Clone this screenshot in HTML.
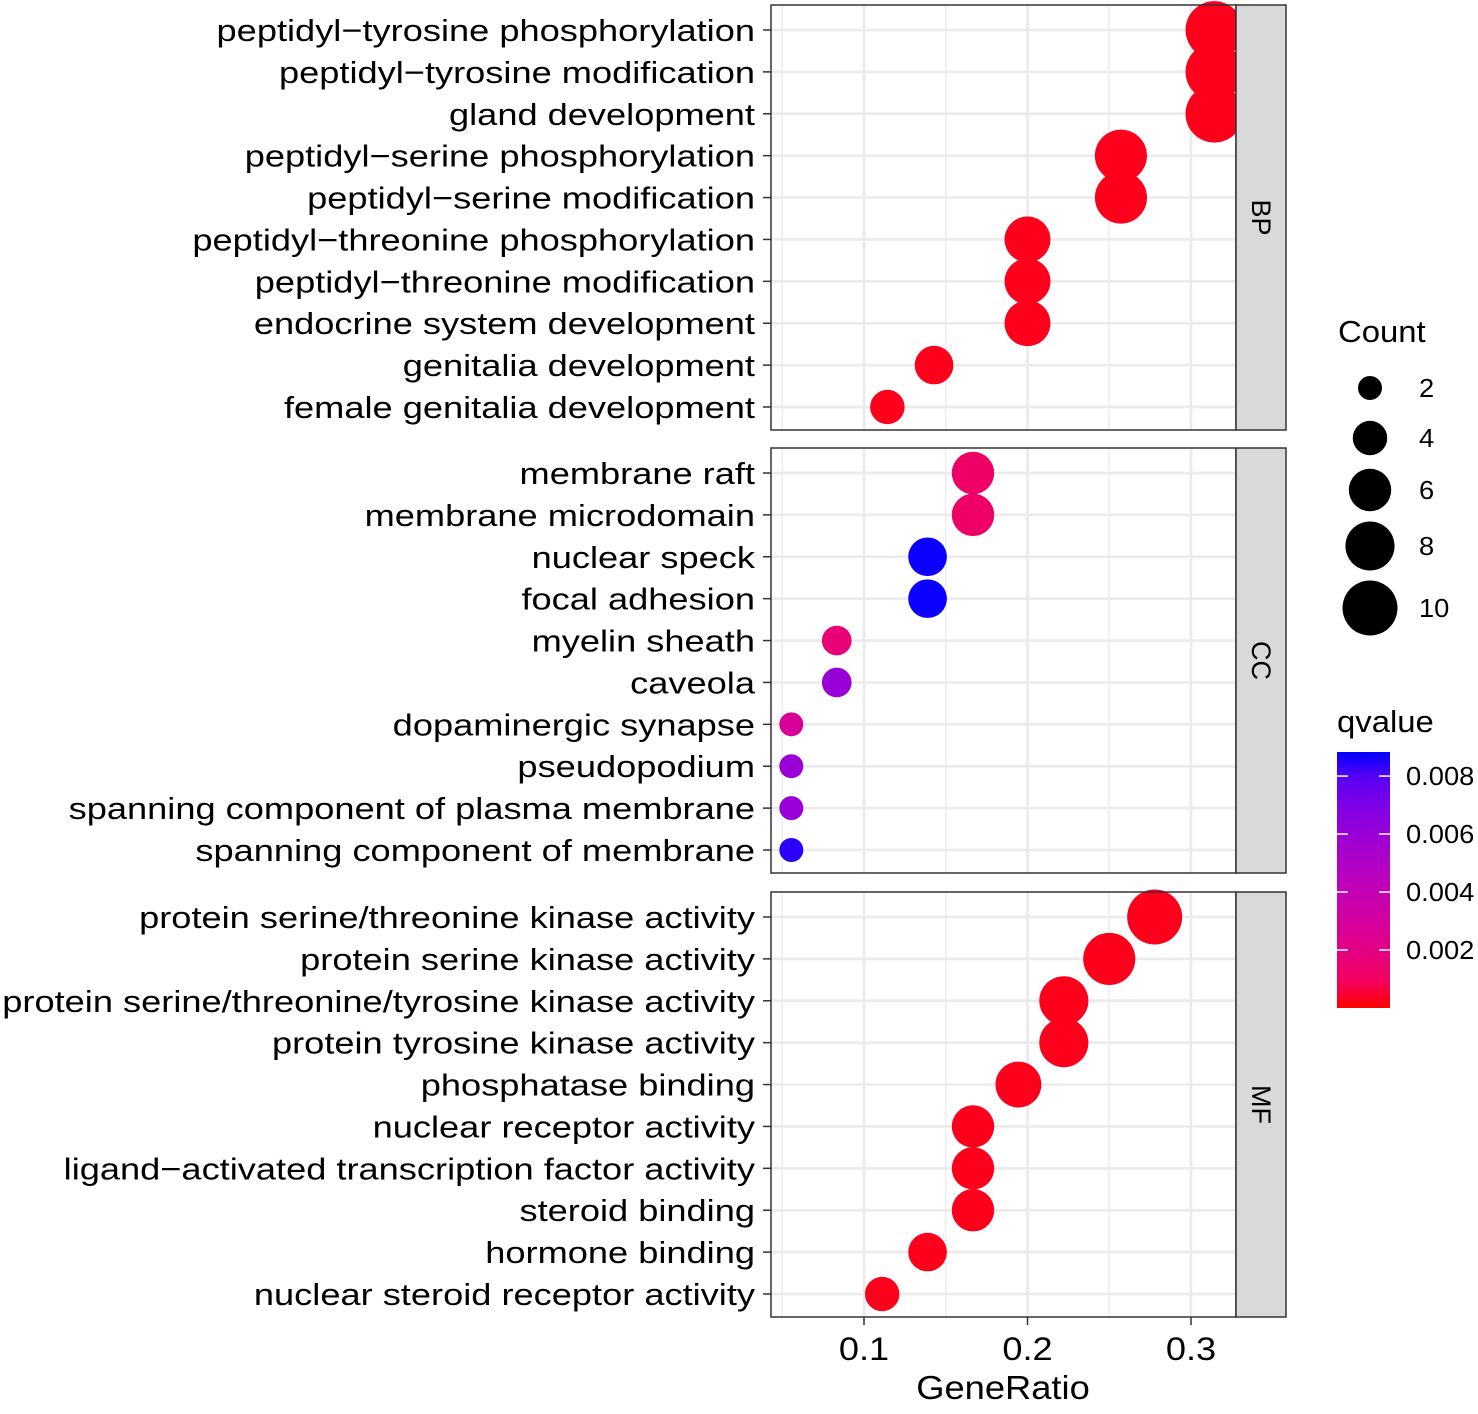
<!DOCTYPE html>
<html><head><meta charset="utf-8"><style>
body{margin:0;background:#fff}
svg text{font-family:"Liberation Sans",Arial,sans-serif;fill:#000}
</style></head><body>
<svg id="c" width="1478" height="1409" xmlns="http://www.w3.org/2000/svg"></svg>
<script>
const bpTerms=["peptidyl\u2212tyrosine phosphorylation","peptidyl\u2212tyrosine modification","gland development","peptidyl\u2212serine phosphorylation","peptidyl\u2212serine modification","peptidyl\u2212threonine phosphorylation","peptidyl\u2212threonine modification","endocrine system development","genitalia development","female genitalia development"];
const bpCount=[11,11,11,9,9,7,7,7,5,4];
const bpRatio=[11/35,11/35,11/35,9/35,9/35,7/35,7/35,7/35,5/35,4/35];
const bpQ=[0.0001,0.0001,0.0001,0.0001,0.0001,0.0001,0.0001,0.0001,0.0001,0.0001];
const ccTerms=["membrane raft","membrane microdomain","nuclear speck","focal adhesion","myelin sheath","caveola","dopaminergic synapse","pseudopodium","spanning component of plasma membrane","spanning component of membrane"];
const ccCount=[6,6,5,5,3,3,2,2,2,2];
const ccRatio=[6/36,6/36,5/36,5/36,3/36,3/36,2/36,2/36,2/36,2/36];
const ccQ=[0.0012,0.0012,0.0088,0.0088,0.0016,0.006,0.0028,0.006,0.006,0.0086];
const mfTerms=["protein serine/threonine kinase activity","protein serine kinase activity","protein serine/threonine/tyrosine kinase activity","protein tyrosine kinase activity","phosphatase binding","nuclear receptor activity","ligand\u2212activated transcription factor activity","steroid binding","hormone binding","nuclear steroid receptor activity"];
const mfCount=[10,9,8,8,7,6,6,6,5,4];
const mfRatio=[10/36,9/36,8/36,8/36,7/36,6/36,6/36,6/36,5/36,4/36];
const mfQ=[0.0001,0.0001,0.0001,0.0001,0.0001,0.0001,0.0001,0.0001,0.0001,0.0001];
const xTicks=[0.1,0.2,0.3];
const xMinor=[0.05,0.15,0.25];
const sizeBreaks=[2,4,6,8,10];
const qBreaks=[0.002,0.004,0.006,0.008];
const qMax=0.00883;

const S=document.getElementById('c');const NS='http://www.w3.org/2000/svg';
function el(t,a,p){const e=document.createElementNS(NS,t);for(const k in a)e.setAttribute(k,a[k]);(p||S).appendChild(e);return e;}
function stretch(t,f){const L=t.getComputedTextLength();t.setAttribute('textLength',L*f);t.setAttribute('lengthAdjust','spacingAndGlyphs');}
const PL=771,PR=1236;
const xs=v=>864+(v-0.1)*1635;
const rs=n=>Math.sqrt(144+(n-2)*76.5);
function toS(l){const c=l<=0.0031308?12.92*l:1.055*Math.pow(l,1/2.4)-0.055;return Math.round(Math.max(0,Math.min(1,c))*255);}
function col(q){const t=Math.max(0,Math.min(1,q/qMax));return `rgb(${toS(1-t)},0,${toS(t)})`;}
const panels=[{name:"BP",terms:bpTerms,count:bpCount,ratio:bpRatio,q:bpQ,top:5},{name:"CC",terms:ccTerms,count:ccCount,ratio:ccRatio,q:ccQ,top:448},{name:"MF",terms:mfTerms,count:mfCount,ratio:mfRatio,q:mfQ,top:892}];
const PH=425;
panels.forEach(p=>{
  const g=el('g',{});
  
  
  const ys=i=>p.top+25+i*(377/9);
  xMinor.forEach(v=>el('line',{x1:xs(v),x2:xs(v),y1:p.top,y2:p.top+PH,stroke:'#ebebeb','stroke-width':1.3},g));
  xTicks.forEach(v=>el('line',{x1:xs(v),x2:xs(v),y1:p.top,y2:p.top+PH,stroke:'#ebebeb','stroke-width':2.7},g));
  p.terms.forEach((t,i)=>{
    el('line',{x1:PL,x2:PR,y1:ys(i),y2:ys(i),stroke:'#ebebeb','stroke-width':2.7},g);
    el('line',{x1:763,x2:PL,y1:ys(i),y2:ys(i),stroke:'#333','stroke-width':1.5},g);
    const tx=el('text',{x:755,y:ys(i)+11,'text-anchor':'end','font-size':31},g);tx.textContent=t;
    stretch(tx,1.168);
    
    
  });
  p.terms.forEach((t,i)=>{
    const c=el('circle',{cx:xs(p.ratio[i]),cy:ys(i),r:rs(p.count[i]),fill:col(p.q[i])},g);
    
    
  });
  el('rect',{x:PL,y:p.top,width:PR-PL,height:PH,fill:'none',stroke:'#333','stroke-width':1.5},g);
  const st=el('rect',{x:PR,y:p.top,width:50,height:PH,fill:'#d9d9d9',stroke:'#333','stroke-width':1.5},g);
  
  
  const sl=el('text',{x:0,y:0,'font-size':27,'text-anchor':'middle',fill:'#1a1a1a',transform:`translate(1252,${p.top+PH/2}) rotate(90)`},g);sl.textContent=p.name;
  
  
});
xTicks.forEach(v=>{
  el('line',{x1:xs(v),x2:xs(v),y1:1317,y2:1325,stroke:'#333','stroke-width':1.5});
  const t=el('text',{x:xs(v),y:1360,'text-anchor':'middle','font-size':32});t.textContent=v.toString();
  stretch(t,1.13);
  
  
});
const xt=el('text',{x:1003,y:1399,'text-anchor':'middle','font-size':33});xt.textContent="GeneRatio";
stretch(xt,1.1);


const lt=el('text',{x:1338,y:342,'font-size':31});lt.textContent="Count";
stretch(lt,1.06);


const ly=[388,438,490,546,608];
sizeBreaks.forEach((n,i)=>{
  const c=el('circle',{cx:1370,cy:ly[i],r:rs(n),fill:'#000'});
  
  
  const t=el('text',{x:1419,y:ly[i]+9,'font-size':26});t.textContent=n;
  stretch(t,1.05);
  
  
});
const qt=el('text',{x:1337,y:732,'font-size':31});qt.textContent="qvalue";
stretch(qt,1.06);


const defs=el('defs',{});const lg=el('linearGradient',{id:'gr',x1:0,y1:1,x2:0,y2:0},defs);
for(let k=0;k<=10;k++)el('stop',{offset:k/10,'stop-color':col(qMax*k/10)},lg);
const cbTop=752,cbBot=1008,cbH=cbBot-cbTop;
const cb=el('rect',{x:1337,y:cbTop,width:53,height:cbH,fill:'url(#gr)'});


qBreaks.forEach(v=>{
  const y=cbBot-v/qMax*cbH;
  el('line',{x1:1337,x2:1348,y1:y,y2:y,stroke:'#fff','stroke-width':1.5});
  el('line',{x1:1379,x2:1390,y1:y,y2:y,stroke:'#fff','stroke-width':1.5});
  const t=el('text',{x:1406,y:y+9,'font-size':26});t.textContent=v.toFixed(3);
  stretch(t,1.05);
  
  
});
</script>
</body></html>
